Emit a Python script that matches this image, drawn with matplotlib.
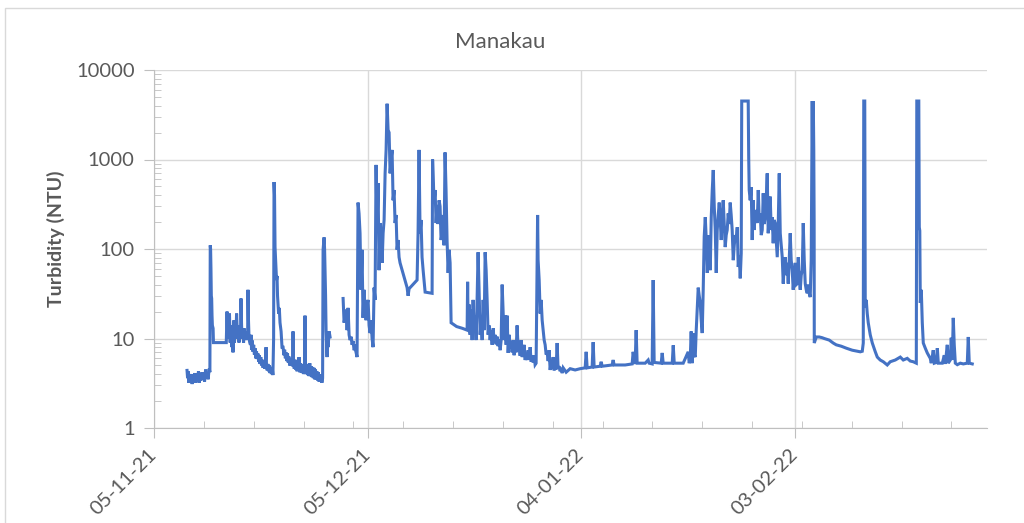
# %%
import numpy as np
import pandas as pd
import matplotlib
matplotlib.use('Agg')
import matplotlib.pyplot as plt
from matplotlib.patches import Rectangle
from matplotlib.ticker import FixedLocator, NullFormatter, FuncFormatter


# %%
# Turbidity readings, Manakau. (days after 05-11-21, NTU)
start = pd.Timestamp('2021-11-05')

early_nov = [
    (4.64, 4.4), (4.72, 3.6), (4.8, 4.3), (4.9, 3.2), (5.0, 3.9), (5.1, 3.4), (5.25, 4.0),
    (5.35, 3.1), (5.5, 3.8), (5.6, 3.4), (5.75, 4.1), (5.85, 3.2), (6.0, 3.9), (6.1, 3.5),
    (6.25, 4.3), (6.35, 3.2), (6.5, 3.8), (6.6, 3.4), (6.75, 4.2), (6.85, 3.5), (7.0, 4.0),
    (7.1, 3.3), (7.25, 4.5), (7.35, 3.6), (7.5, 4.2), (7.6, 3.5), (7.75, 4.6), (7.85, 4.2),
    (7.9, 110), (7.95, 100), (8.0, 60), (8.05, 30), (8.1, 28), (8.15, 18), (8.2, 14),
    (8.3, 13), (8.35, 9.0), (10.15, 9.0),
    (10.26, 20), (10.33, 12), (10.4, 16), (10.5, 10), (10.6, 19), (10.7, 9), (10.8, 14),
    (10.96, 8), (11.03, 11), (11.1, 7.0), (11.17, 12), (11.24, 16), (11.3, 9), (11.38, 13),
    (11.45, 10), (11.52, 12), (11.6, 19), (11.66, 14), (11.75, 10), (11.85, 12), (11.94, 9),
    (12.05, 14), (12.15, 11), (12.22, 28), (12.3, 14), (12.38, 10), (12.5, 12), (12.58, 9),
    (12.65, 13), (12.75, 10), (12.85, 11), (12.93, 9.6), (13.05, 12), (13.15, 10), (13.2, 35),
    (13.27, 16), (13.35, 10), (13.45, 9), (13.55, 8.5), (13.63, 11), (13.7, 7.5), (13.8, 9.5),
    (13.91, 7.1), (14.0, 8.5), (14.1, 6.6), (14.19, 7.8), (14.3, 6.0), (14.4, 7.2), (14.47, 5.9),
    (14.6, 6.8), (14.7, 5.5), (14.8, 6.5), (14.89, 5.2), (15.0, 6.2), (15.1, 5.0), (15.2, 5.8),
    (15.32, 4.7), (15.45, 5.6), (15.55, 4.6), (15.65, 5.4), (15.74, 8.0), (15.8, 5.0), (15.9, 4.4),
    (16.0, 5.2), (16.1, 4.3), (16.2, 5.0), (16.3, 4.1), (16.4, 4.8), (16.5, 4.0), (16.6, 4.8),
    (16.7, 3.9), (16.8, 10),
    (16.86, 560), (16.93, 400), (17.0, 105), (17.1, 70), (17.14, 58), (17.21, 45), (17.28, 50),
    (17.35, 30), (17.5, 19), (17.6, 22), (17.7, 15), (17.85, 12), (17.98, 8.0), (18.13, 8.0),
    (18.25, 6.5), (18.35, 7.5), (18.45, 6.0), (18.55, 7.0), (18.65, 5.6), (18.75, 6.8),
    (18.85, 5.4), (18.95, 6.3), (19.05, 5.0), (19.15, 6.0), (19.25, 5.0), (19.35, 5.8),
    (19.45, 4.9), (19.53, 12), (19.6, 5.5), (19.7, 4.6), (19.8, 5.8), (19.9, 4.5), (20.0, 5.6),
    (20.1, 4.3), (20.2, 5.5), (20.3, 4.4), (20.37, 6.2), (20.45, 4.2), (20.55, 5.3), (20.65, 4.2),
    (20.75, 5.2), (20.85, 4.1), (20.95, 5.0), (21.05, 4.0), (21.15, 5.0), (21.21, 18), (21.28, 4.8),
    (21.38, 4.0), (21.48, 5.2), (21.58, 3.9), (21.68, 5.0), (21.78, 3.8), (21.88, 5.3), (21.98, 3.8),
    (22.08, 4.9), (22.18, 3.7), (22.28, 4.8), (22.38, 3.6), (22.48, 4.7), (22.58, 3.5), (22.68, 4.5),
    (22.78, 3.5), (22.88, 4.3), (22.98, 3.4), (23.08, 4.2), (23.18, 3.3), (23.28, 4.0), (23.38, 3.3),
    (23.48, 3.8), (23.58, 3.2), (23.68, 3.6),
    (23.75, 98), (23.89, 135), (23.96, 100), (24.03, 54), (24.1, 30), (24.17, 12), (24.31, 6.2),
    (24.38, 12), (24.45, 8.0), (24.6, 12), (24.73, 10.4),
    (25.5, np.nan),
]

late_nov_dec = [
    (26.56, 28), (26.7, 15), (26.84, 18), (26.98, 21), (27.12, 12.4), (27.26, 22), (27.4, 11),
    (27.54, 9.6), (27.68, 10.5), (27.82, 8.5), (27.96, 9.4), (28.1, 7.4), (28.24, 7.8), (28.38, 7.0),
    (28.52, 6.2), (28.66, 330), (28.8, 250), (28.94, 150), (29.08, 35), (29.22, 98), (29.36, 17),
    (29.5, 35), (29.65, 21), (29.79, 16), (29.93, 24), (30.07, 27), (30.21, 14), (30.35, 11.5),
    (30.49, 16), (30.63, 10), (30.77, 8.0), (30.91, 37), (31.05, 27), (31.19, 870), (31.33, 163),
    (31.47, 545), (31.61, 58), (31.75, 195), (31.89, 126), (32.04, 70), (32.18, 150), (32.32, 211),
    (32.46, 700), (32.6, 1280), (32.74, 4200), (32.88, 2140), (33.02, 2000), (33.16, 700),
    (33.3, 1000), (33.44, 1280), (33.58, 350), (33.72, 456), (33.86, 195), (34.0, 240), (34.14, 98),
    (34.28, 126), (34.42, 81), (34.56, 70), (35.55, 37), (35.69, 30), (35.83, 36), (36.95, 45),
    (37.09, 150), (37.23, 1280), (37.37, 150), (37.51, 211), (37.65, 81), (37.8, 58), (38.08, 33),
    (39.06, 32), (39.13, 1000), (39.2, 700), (39.34, 330), (39.48, 456), (39.62, 195), (39.76, 310),
    (39.9, 190), (40.04, 350), (40.18, 300), (40.32, 126), (40.46, 150), (40.6, 240), (40.74, 110),
    (40.88, 1200), (41.02, 456), (41.16, 126), (41.31, 54), (41.45, 98), (41.59, 70), (41.73, 15),
]

dec_jan = [
    (42.5, 13.6), (43.3, 13.0), (43.98, 12.4), (44.05, 43), (44.12, 14), (44.26, 24), (44.4, 11),
    (44.54, 21), (44.68, 9.6), (44.82, 27), (44.96, 12.4), (45.1, 18), (45.24, 9.6), (45.38, 27),
    (45.52, 92), (45.66, 35), (45.81, 11), (45.95, 16), (46.09, 9.6), (46.23, 27), (46.37, 12.4),
    (46.51, 92), (46.65, 58), (46.79, 27), (46.93, 11), (47.07, 14), (47.21, 9.6), (47.35, 12.4),
    (47.49, 8.5), (47.64, 13), (47.78, 9.1), (47.92, 11), (48.05, 8.6), (48.19, 10.5), (48.33, 8.2),
    (48.48, 9.8), (48.62, 7.4), (48.76, 9.6), (48.9, 40), (49.04, 19), (49.18, 9.6), (49.32, 18),
    (49.46, 8.5), (49.6, 18), (49.74, 6.9), (49.88, 11), (50.02, 7.8), (50.16, 9.0), (50.3, 7.0),
    (50.44, 9.6), (50.58, 6.5), (50.72, 8.5), (50.86, 7.0), (51.0, 14), (51.15, 7.4), (51.29, 8.0),
    (51.43, 6.4), (51.57, 9.6), (51.71, 6.2), (51.85, 7.2), (51.99, 8.5), (52.13, 5.75),
    (52.27, 6.8), (52.41, 5.75), (52.55, 7.4), (52.69, 5.8), (52.83, 8.0), (52.97, 5.5),
    (53.11, 6.4), (53.25, 5.4), (53.39, 6.5), (53.53, 5.1), (53.67, 5.3), (53.81, 63), (53.88, 240),
    (53.95, 75), (54.1, 45), (54.24, 19), (54.38, 27), (54.52, 16), (54.66, 12.4), (54.8, 9.6),
    (54.94, 8.5), (55.08, 6.6), (55.22, 7.0), (55.36, 5.6), (55.5, 7.4), (55.64, 4.45),
    (55.78, 5.5), (55.92, 4.6), (56.06, 6.2), (56.2, 4.4), (56.34, 5.3), (56.48, 4.5), (56.62, 8.9),
    (56.76, 4.6), (56.9, 4.9), (57.05, 4.3), (57.19, 4.7), (57.33, 4.1), (57.47, 4.7), (57.89, 4.2),
    (58.45, 4.6), (59.15, 4.45), (59.86, 4.6), (60.56, 4.7), (60.7, 7.1), (60.84, 4.7),
    (61.54, 4.8), (61.68, 9.1), (61.82, 4.8), (62.67, 4.9), (62.81, 5.5), (62.95, 4.9),
    (64.35, 5.06), (64.49, 5.75), (64.63, 5.06), (66.18, 5.06), (67.16, 5.2), (67.3, 7.1),
    (67.44, 5.75), (67.58, 5.2), (67.72, 12.4), (67.86, 5.3), (68.99, 5.3), (69.41, 5.75),
    (69.55, 5.3), (69.97, 5.2), (70.11, 45), (70.25, 5.4), (71.24, 5.3), (71.38, 6.9),
    (71.52, 5.3), (72.79, 5.3), (72.93, 8.4), (73.07, 5.3), (74.33, 5.3), (75.03, 7.1),
    (75.17, 5.3), (75.31, 5.75),
]

jan_feb = [
    (75.45, 12), (75.59, 5.3), (75.74, 11.5), (75.88, 6.5), (76.02, 6.2), (76.16, 12.4), (76.3, 22),
    (76.44, 37), (76.58, 30), (76.72, 25), (76.86, 16), (77.0, 11.5), (77.14, 35), (77.28, 137),
    (77.43, 227), (77.57, 126), (77.71, 54), (77.85, 98), (77.99, 143), (78.13, 58), (78.27, 227),
    (78.41, 456), (78.55, 763), (78.69, 300), (78.83, 163), (78.97, 54), (79.11, 163), (79.25, 240),
    (79.39, 330), (79.53, 211), (79.67, 126), (79.81, 240), (79.95, 350), (80.09, 190), (80.23, 105),
    (80.37, 143), (80.51, 163), (80.65, 250), (80.79, 190), (80.93, 330), (81.07, 240), (81.21, 163),
    (81.36, 75), (81.5, 110), (81.64, 143), (81.78, 126), (81.92, 175), (82.06, 63), (82.2, 85),
    (82.34, 47), (82.48, 90), (82.55, 4500), (83.46, 4500), (83.53, 1060), (83.6, 456), (83.74, 350),
    (83.88, 490), (84.02, 126), (84.16, 350), (84.3, 163), (84.45, 273), (84.59, 240), (84.73, 195),
    (84.87, 456), (85.01, 211), (85.15, 250), (85.29, 143), (85.43, 163), (85.57, 420), (85.71, 190),
    (85.85, 227), (85.99, 350), (86.13, 700), (86.27, 150), (86.41, 240), (86.55, 385), (86.69, 163),
    (86.83, 227), (86.97, 116), (87.11, 211), (87.25, 195), (87.4, 126), (87.54, 81), (87.68, 195),
    (87.82, 700), (87.96, 150), (88.1, 110), (88.24, 81), (88.38, 41), (88.52, 66), (88.66, 81),
    (88.8, 51), (88.94, 70), (89.08, 41), (89.22, 75), (89.36, 150), (89.5, 75), (89.64, 58),
    (89.78, 35), (89.92, 51), (90.07, 70), (90.21, 40), (90.35, 41), (90.49, 81), (90.63, 45),
    (90.77, 35), (90.91, 51), (91.05, 58), (91.19, 195), (91.33, 75), (91.47, 41), (91.61, 35),
    (91.75, 32), (91.89, 40), (92.03, 32), (92.17, 29), (92.31, 75),
]

feb_mar = [
    (92.45, 4500), (92.53, 600), (92.6, 4500), (92.67, 1280), (92.72, 200), (92.74, 8.9),
    (92.88, 9.6), (93.02, 10.4), (93.44, 10.4), (93.86, 10.2), (94.14, 10), (94.84, 9.6),
    (95.4, 8.9), (95.82, 8.5), (96.53, 8.2), (97.23, 7.8), (98.07, 7.4), (99.2, 7.1), (99.48, 7.2),
    (99.62, 8.9), (99.69, 4500), (99.83, 4500), (99.9, 22), (100.04, 27), (100.18, 19), (100.32, 15),
    (100.6, 11), (100.89, 8.9), (101.31, 7.1), (101.59, 6.2), (102.0, 5.75), (102.43, 5.5),
    (102.99, 5.06), (103.41, 5.5), (104.12, 5.75), (104.82, 6.2), (105.24, 5.75), (105.8, 6.0),
    (106.22, 5.6), (106.64, 5.5), (107.07, 5.3), (107.14, 4500), (107.42, 4500), (107.49, 175),
    (107.56, 160), (107.63, 25), (107.77, 35), (107.91, 15), (108.05, 8.9), (108.33, 7.8),
    (108.61, 6.9), (109.03, 6.0), (109.17, 5.3), (109.45, 7.4), (109.6, 5.3), (109.88, 5.4),
    (110.02, 7.8), (110.16, 5.3), (110.72, 5.3), (111.0, 6.5), (111.14, 5.2), (111.42, 8.5),
    (111.56, 5.3), (111.84, 5.75), (111.98, 10.2), (112.12, 5.75), (112.26, 17), (112.4, 8.5),
    (112.55, 5.3), (112.83, 5.1), (113.25, 5.3), (113.67, 5.2), (114.23, 5.3), (114.37, 10.4),
    (114.51, 5.3), (114.93, 5.2),
]

major_dates = pd.to_datetime(['2021-11-05', '2021-12-05', '2022-01-04', '2022-02-03'])
ytick_values = [1, 10, 100, 1000, 10000]

# %%
series = early_nov + late_nov_dec + dec_jan + jan_feb + feb_mar
days = np.array([d for d, _ in series])
ntu = np.array([v for _, v in series])
time = start + pd.to_timedelta(days, unit='D')

text_color = '#595959'
axis_color = '#bfbfbf'
grid_color = '#d9d9d9'
plt.rcParams['font.family'] = ['Lato', 'DejaVu Sans']

fig = plt.figure(figsize=(10.24, 5.23), dpi=100)
fig.patches.append(Rectangle((5 / 1024, -0.1), 1.2, 1 - 8 / 523 + 0.1, transform=fig.transFigure,
                             fill=False, edgecolor=grid_color, linewidth=1.0))
ax = fig.add_axes([154 / 1024, 1 - 428 / 523, 833 / 1024, 358 / 523])

ax.plot(time, ntu, color='#4472c4', linewidth=2.2, solid_joinstyle='miter')

ax.set_yscale('log')
ax.set_ylim(1, 10000)
ax.set_xlim(start, start + pd.Timedelta(days=117))

ax.yaxis.set_major_locator(FixedLocator(ytick_values))
ax.yaxis.set_major_formatter(FuncFormatter(lambda v, p: f'{v:.0f}'))
ax.yaxis.set_minor_locator(FixedLocator([m * 10 ** e for e in range(4) for m in range(2, 10)]))
ax.yaxis.set_minor_formatter(NullFormatter())

ax.set_xticks(major_dates)
ax.set_xticks(start + pd.to_timedelta(np.arange(0, 117, 7), unit='D'), minor=True)
ax.set_xticklabels([d.strftime('%d-%m-%y') for d in major_dates])

ax.grid(True, which='major', color=grid_color, linewidth=1.0)
ax.set_axisbelow(True)
for side in ['top', 'right']:
    ax.spines[side].set_visible(False)
for side in ['left', 'bottom']:
    ax.spines[side].set_color(axis_color)

ax.tick_params(which='major', direction='out', length=7, color=axis_color,
               labelcolor=text_color, labelsize=14.5)
ax.tick_params(which='minor', direction='in', length=5, color=axis_color)
ax.tick_params(axis='y', which='major', pad=7)
ax.tick_params(axis='x', which='major', pad=10)
for lbl in ax.get_xticklabels():
    lbl.set_rotation(45)
    lbl.set_ha('right')
    lbl.set_va('center')
    lbl.set_rotation_mode('anchor')

fig.text(500 / 1024, 1 - 42 / 523, 'Manakau', ha='center', va='center',
         fontsize=16, color=text_color)
fig.text(56 / 1024, 1 - 239 / 523, 'Turbidity (NTU)', ha='center', va='center',
         rotation=90, fontsize=14, fontweight='bold', color=text_color)

fig.savefig('out.png', dpi=100)
